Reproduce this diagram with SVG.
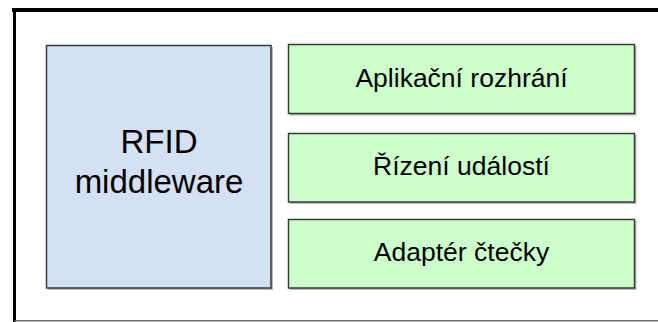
<svg xmlns="http://www.w3.org/2000/svg" width="658" height="322" viewBox="0 0 658 322">
  <style>
    .box { stroke: #3a3a3a; stroke-width: 1.5; }
    .blue { fill: #d4e0f3; }
    .green { fill: #ccffcc; }
    .shadow { fill: #b8b8b8; }
    .lbl { font-family: "Liberation Sans", Arial, sans-serif; fill: #000; text-anchor: middle; }
    .big { font-size: 33px; }
    .small { font-size: 26.5px; }
  </style>
  <rect width="658" height="322" fill="#ffffff"/>
  <g id="frame">
    <line x1="12" y1="10" x2="658" y2="10" stroke="#000" stroke-width="4"/>
    <line x1="14.5" y1="8" x2="14.5" y2="322" stroke="#000" stroke-width="3"/>
    <line x1="14.5" y1="320.8" x2="658" y2="320.8" stroke="#6e6e6e" stroke-width="1.5"/>
  </g>
  <g id="rfid-middleware">
    <rect class="shadow" x="48" y="47" width="225" height="243"/>
    <rect class="box blue" x="46.5" y="45.5" width="224.5" height="242.5"/>
    <text class="lbl big" x="159" y="153">RFID</text>
    <text class="lbl big" x="159" y="193">middleware</text>
  </g>
  <g id="aplikacni-rozhrani">
    <rect class="shadow" x="290" y="46" width="346.5" height="69.5"/>
    <rect class="box green" x="288.5" y="44.5" width="346" height="69"/>
    <text class="lbl small" x="461.5" y="87">Aplikační rozhrání</text>
  </g>
  <g id="rizeni-udalosti">
    <rect class="shadow" x="290" y="135" width="346.5" height="69"/>
    <rect class="box green" x="288.5" y="133.5" width="346" height="68.5"/>
    <text class="lbl small" x="461.5" y="175">Řízení událostí</text>
  </g>
  <g id="adapter-ctecky">
    <rect class="shadow" x="290" y="221" width="346.5" height="69"/>
    <rect class="box green" x="288.5" y="219.5" width="346" height="68.5"/>
    <text class="lbl small" x="461.5" y="261">Adaptér čtečky</text>
  </g>
  <g id="connectors"></g>
</svg>
